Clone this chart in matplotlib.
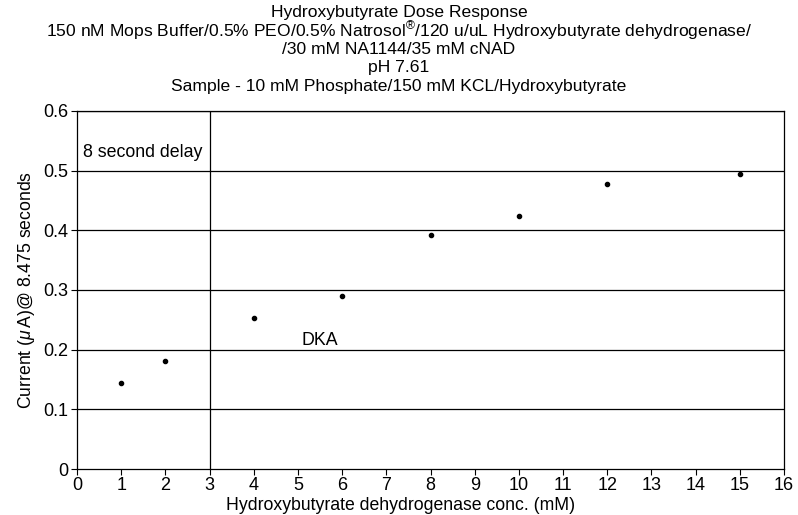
import matplotlib
matplotlib.use("Agg")
import matplotlib.pyplot as plt

conc = [1, 2, 4, 6, 8, 10, 12, 15]
current = [0.144, 0.181, 0.253, 0.290, 0.392, 0.424, 0.478, 0.494]
x_ticks = list(range(0, 17))
y_ticks = [0, 0.1, 0.2, 0.3, 0.4, 0.5, 0.6]
y_labels = ["0", "0.1", "0.2", "0.3", "0.4", "0.5", "0.6"]

title_lines = [
    "Hydroxybutyrate Dose Response",
    "150 nM Mops Buffer/0.5% PEO/0.5% Natrosol$^{\u00ae}$/120 u/uL Hydroxybutyrate dehydrogenase/",
    "/30 mM NA1144/35 mM cNAD",
    "pH 7.61",
    "Sample - 10 mM Phosphate/150 mM KCL/Hydroxybutyrate",
]

plt.rcParams.update({
    "font.family": ["Liberation Sans", "DejaVu Sans"],
    "font.size": 12,
    "mathtext.fontset": "custom",
    "mathtext.rm": "Liberation Sans",
    "mathtext.it": "Liberation Sans:italic",
})

fig = plt.figure(figsize=(7.98, 5.15), dpi=100)
ax = fig.add_axes([0.0965, 0.0893, 0.886, 0.6952])

ax.scatter(conc, current, s=9, color="black", zorder=3)

ax.set_xlim(0, 16)
ax.set_ylim(0, 0.6)
ax.set_xticks(x_ticks)
ax.set_yticks(y_ticks)
ax.set_yticklabels(y_labels)
ax.tick_params(labelsize=13, length=4, width=0.8, pad=2)
for yv in y_ticks[1:]:
    ax.axhline(yv, color="black", lw=0.9, zorder=1)
ax.axvline(3, color="black", lw=0.9, zorder=1)
for sp in ax.spines.values():
    sp.set_linewidth(0.9)

ax.text(0.14, 0.53, "8 second delay", fontsize=12.8, va="center", ha="left")
ax.text(5.09, 0.216, "DKA", fontsize=12.8, va="center", ha="left")

ax.set_xlabel("Hydroxybutyrate dehydrogenase conc. (mM)", fontsize=12.7)
ax.xaxis.set_label_coords(0.458, -0.077)
ax.set_ylabel(r"Current ($\mu\,$A)@ 8.475 seconds", fontsize=12.7, labelpad=5)

for i, line in enumerate(title_lines):
    fig.text(0.5, 1 - (12 + 18.6 * i) / 515, line, ha="center", va="center", fontsize=12.6)

fig.savefig("out.png", dpi=100)
